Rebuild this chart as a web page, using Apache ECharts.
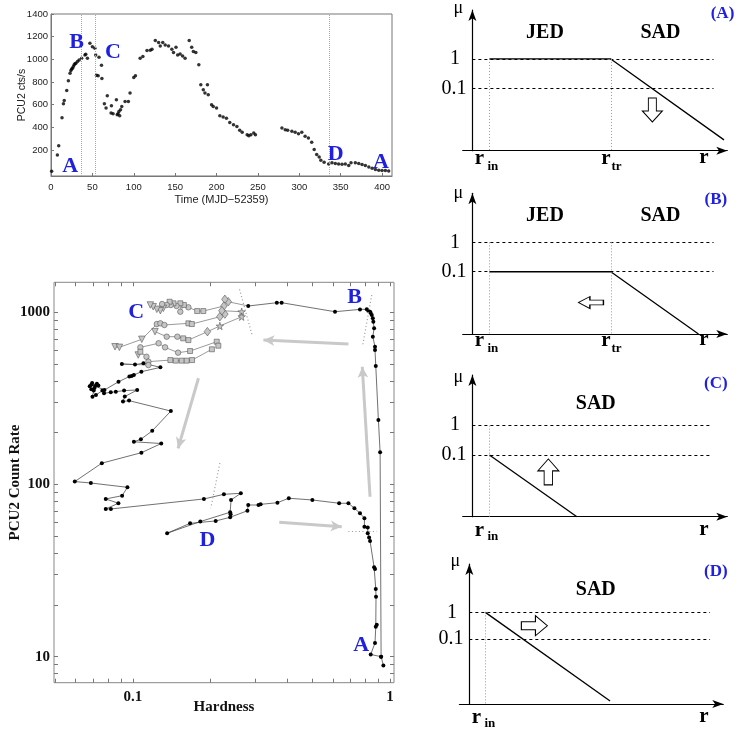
<!DOCTYPE html>
<html>
<head>
<meta charset="utf-8">
<title>Outburst light curve, HID and JED/SAD sketches</title>
<script src="https://cdn.jsdelivr.net/npm/echarts@6.0.0/dist/echarts.min.js"></script>
<style>
html, body { margin: 0; padding: 0; background: #fff; }
#chart { width: 737px; height: 734px; }
</style>
</head>
<body>
<div id="chart"></div>
<script>
// ---- light curve (PCU2 cts/s vs time) ----
const lcTime = [0.8, 7.7, 9.3, 13.3, 15, 16, 19, 21, 23, 24, 25, 26, 27, 28, 29, 30, 32, 34, 37, 41, 42, 44, 47, 50, 53, 54, 55, 57, 58, 61, 61.5,
  64.5, 66.5, 68, 72.6, 73, 75, 79, 80, 81, 82, 83, 84, 85.5, 89.5, 93.5, 95.5, 100, 102, 107.7, 111, 116, 120, 122, 126, 130, 132, 135, 138,
  142, 146, 148, 151, 153, 156, 159, 162, 167, 170, 172, 175, 178.6, 181, 184, 186, 189, 190, 194, 196, 200, 204, 208, 212, 216, 220.5, 224.6,
  228, 231, 237, 239, 241.5, 245, 247, 279, 283, 286, 291, 295, 299, 303, 307, 311, 315, 318, 321, 324, 326, 330, 335.5, 339.5, 343.5, 347.5,
  351.6, 355.6, 359.7, 362.5, 367.7, 371.8, 375.8, 379.8, 384, 388, 392, 396, 400, 404, 408];
const lcRate = [12, 156, 238, 485, 608, 637, 725, 810, 878, 901, 915, 922, 936, 951, 960, 966, 980, 995, 1010, 1039, 1045, 1010, 1142, 1112, 1098, 1039, 860, 854, 1019, 948, 831,
  608, 570, 678, 526, 590, 520, 643, 511, 520, 540, 502, 555, 584, 628, 628, 702, 840, 854, 1010, 1024, 1077, 1080, 1089, 1165, 1148, 1118, 1148, 1127,
  1118, 1089, 1060, 1107, 1039, 1048, 1030, 1010, 1165, 1107, 1069, 1060, 951, 775, 731, 702, 775, 687, 599, 584, 570, 502, 490, 479, 443, 423, 408,
  373, 356, 335, 326, 335, 350, 335, 394, 379, 373, 364, 356, 344, 356, 320, 306, 268, 203, 159, 138, 109, 91, 77, 86, 80, 77,
  74, 77, 62, 86, 86, 80, 71, 62, 50, 39, 27, 21, 18, 18, 15];
const lcPhaseTimes = [37, 53, 336];
const lcTimeTicks = [0, 50, 100, 150, 200, 250, 300, 350, 400];
const lcRateTicks = [200, 400, 600, 800, 1000, 1200, 1400];

// ---- hardness-intensity diagram: [hardness, count rate] ----
const hidRise = [[0.923, 10], [0.915, 154], [0.901, 237], [0.880, 488], [0.874, 604], [0.874, 631], [0.857, 721], [0.867, 808], [0.861, 882],
  [0.857, 923], [0.849, 964], [0.841, 990], [0.836, 1008], [0.823, 1021], [0.812, 1041], [0.764, 1040], [0.611, 1008], [0.379, 1137],
  [0.363, 1137], [0.281, 1088]];
const hidDecay = [[0.0907, 501], [0.102, 497], [0.110, 506], [0.128, 479], [0.108, 452], [0.099, 427], [0.101, 432], [0.097, 424],
  [0.088, 395], [0.0776, 354], [0.0714, 373], [0.069, 380], [0.068, 372], [0.0695, 388], [0.0725, 385], [0.0735, 376], [0.071, 364],
  [0.069, 358], [0.0705, 352], [0.0697, 323], [0.0719, 331], [0.0762, 351], [0.0773, 339], [0.0821, 343], [0.0859, 346], [0.0925, 351],
  [0.104, 354], [0.0931, 324], [0.0916, 303], [0.0967, 307], [0.1406, 267], [0.119, 205], [0.1075, 183], [0.101, 177], [0.129, 173],
  [0.108, 153], [0.0758, 133], [0.0595, 104], [0.0687, 102], [0.0953, 96.3], [0.0909, 86.1], [0.0785, 82.4], [0.0879, 77.8], [0.0785, 72.1],
  [0.0822, 72.1], [0.189, 82.4], [0.226, 87.7], [0.263, 88.9], [0.241, 81.3], [0.239, 69.0], [0.240, 67.2], [0.183, 60.9], [0.136, 52.1],
  [0.167, 59.5], [0.210, 61.4], [0.239, 64.5], [0.279, 70.4], [0.281, 76.0], [0.308, 76.0], [0.314, 76.7], [0.365, 78.4], [0.404, 83.2],
  [0.499, 81.3], [0.634, 77.8], [0.689, 77.8], [0.727, 72.8], [0.764, 68.1], [0.795, 63.7], [0.795, 56.9], [0.819, 56.3], [0.819, 52.1],
  [0.829, 49.3], [0.836, 47.0], [0.867, 33.1], [0.874, 32.3], [0.880, 24.7], [0.882, 22.3], [0.880, 14.9], [0.888, 15.3], [0.874, 12.0],
  [0.841, 10.3], [0.923, 10.0], [0.942, 8.9]];
// grey symbols in the soft state: t=down triangle, c=circle, s=square, d=diamond, x=star, n=no symbol
const grayStrand1 = [[0.281, 1088, 'n'], [0.235, 1152, 'd'], [0.228, 1190, 'd'], [0.226, 1088, 'd'], [0.188, 1017, 's'], [0.178, 1017, 's'],
  [0.1645, 1069, 'c'], [0.158, 1103, 's'], [0.153, 1008, 'c'], [0.153, 1128, 's'], [0.148, 1088, 'c'], [0.144, 1128, 's'], [0.1405, 1103, 'c'],
  [0.139, 1152, 's'], [0.1355, 1103, 'c'], [0.1315, 1055, 't'], [0.130, 1117, 'c'], [0.128, 1022, 't'], [0.124, 1041, 't'], [0.120, 1078, 't'],
  [0.117, 1103, 't']];
const grayStrand2 = [[0.0853, 631, 't'], [0.0887, 626, 't'], [0.1084, 697, 't'], [0.124, 855, 'c'], [0.128, 863, 'c'], [0.1327, 844, 'c'],
  [0.1645, 863, 's'], [0.1696, 855, 's'], [0.218, 943, 'd'], [0.228, 977, 'd'], [0.222, 1022, 'd'], [0.265, 1008, 'x']];
const grayStrand3 = [[0.122, 772, 't'], [0.1355, 722, 'c'], [0.149, 722, 'c'], [0.157, 706, 's'], [0.1645, 690, 's'], [0.195, 772, 'd'],
  [0.218, 833, 'x'], [0.265, 943, 'x']];
const grayStrand4 = [[0.107, 626, 'c'], [0.126, 661, 'c'], [0.1335, 626, 'c'], [0.150, 583, 'c'], [0.167, 596, 's'], [0.212, 675, 's'],
  [0.215, 640, 's']];
const grayStrand5 = [[0.105, 565, 't'], [0.107, 590, 's'], [0.113, 552, 'c'], [0.115, 517, 'c'], [0.140, 528, 's'], [0.147, 524, 's'],
  [0.155, 524, 's'], [0.162, 524, 's'], [0.170, 528, 's'], [0.203, 610, 's']];
const grayStrand6 = [[0.115, 494, 'c'], [0.0907, 501, 'n']];
const hidArrows = [[[0.689, 655], [0.322, 690]], [[0.836, 84.9], [0.780, 483]], [[0.180, 414], [0.150, 162]], [[0.371, 60.3], [0.649, 56.9]]];
const hidBoundaries = [[[0.260, 1360], [0.292, 722]], [[0.849, 1260], [0.783, 646]], [[0.218, 133], [0.201, 72.8]], [[0.689, 53.7], [0.888, 53.7]]];
const hidTickX = [0.05, 0.06, 0.07, 0.08, 0.09, 0.1, 0.2, 0.3, 0.4, 0.5, 0.6, 0.7, 0.8, 0.9, 1];
const hidTickY = [8, 9, 10, 20, 30, 40, 50, 60, 70, 80, 90, 100, 200, 300, 400, 500, 600, 700, 800, 900, 1000];

// ---- mu(r) sketches: x = radius (arbitrary units), y = log10(mu) ----
const profileA = [[6.67, 0], [54.3, 0], [98.7, -2.76]];
const profileB = [[6.67, -1], [54.3, -1], [88.7, -3.12]];
const profileC = [[6.67, -1], [41.0, -3.11]];
const profileD = [[6.28, 0], [55.2, -3.32]];

const blue = '#2020e0';
const serif = '"Liberation Serif", "DejaVu Serif", serif';
const sans = '"Liberation Sans", Arial, sans-serif';
const hollowArrow = 'path://M6,24L6,11L0,11L10,0L20,11L14,11L14,24Z';

const symbols = {
  t: { symbol: 'triangle', symbolRotate: 180, symbolSize: 6.5 },
  c: { symbol: 'circle', symbolSize: 5.5 },
  s: { symbol: 'rect', symbolSize: 5 },
  d: { symbol: 'diamond', symbolSize: [6.5, 8.5] },
  x: { symbol: 'path://M50,0L61,35L98,35L68,57L79,91L50,70L21,91L32,57L2,35L39,35Z', symbolSize: 7.5 },
  n: { symbol: 'none' }
};

const panels = [
  { grid: { left: 462.7, top: 10, width: 264.6, height: 140.7 }, xMin: -3.8, xMax: 100, yMin: -3.13, yMax: 1.67,
    profile: profileA, dashEnd: 94.6, dotted: [6.67, 54.3], arrow: { at: [70.6, -1.74], size: [20, 24], rot: 180 } },
  { grid: { left: 462.7, top: 193.3, width: 264.6, height: 140.7 }, xMin: -3.8, xMax: 100, yMin: -3.12, yMax: 1.67,
    profile: profileB, dashEnd: 94.6, dotted: [6.67, 54.3], arrow: { at: [46.5, -2.05], size: [12, 25], rot: 90 } },
  { grid: { left: 462.7, top: 375, width: 264.6, height: 141.7 }, xMin: -3.8, xMax: 100, yMin: -3.11, yMax: 1.73,
    profile: profileC, dashEnd: 93.5, dotted: [6.67], arrow: { at: [29.8, -1.58], size: [21, 26], rot: 0 } },
  { grid: { left: 459.4, top: 564, width: 263.9, height: 140 }, xMin: -3.9, xMax: 99.6, yMin: -3.43, yMax: 1.81,
    profile: profileD, dashEnd: 94.4, dotted: [6.28], arrow: { at: [25.5, -0.5], size: [20, 26], rot: -90 } }
];

const noSplit = { show: false };
const grids = [
  { left: 51, top: 14, width: 341, height: 162, show: true, borderColor: '#777', borderWidth: 1, containLabel: false },
  { left: 54, top: 282.3, width: 340, height: 400.4, show: true, borderColor: '#888', borderWidth: 1, containLabel: false }
];
const xAxes = [
  { gridIndex: 0, type: 'value', min: 0, max: 412, splitLine: noSplit,
    axisLine: { onZero: false, lineStyle: { color: '#777' } },
    axisTick: { inside: true, length: 3, customValues: lcTimeTicks, lineStyle: { color: '#777' } },
    axisLabel: { customValues: lcTimeTicks, formatter: v => String(v), fontSize: 9.5, color: '#222', margin: 6, fontFamily: sans },
    name: 'Time (MJD\u221252359)', nameLocation: 'middle', nameGap: 18, nameMoveOverlap: false,
    nameTextStyle: { fontSize: 11, color: '#222', fontFamily: sans } },
  { gridIndex: 1, type: 'log', logBase: 10, min: 0.0494, max: 1.036, splitLine: noSplit,
    axisLine: { show: false, onZero: false }, axisTick: { show: false },
    axisLabel: { formatter: v => String(v), showMinLabel: false, showMaxLabel: false,
      fontFamily: serif, fontWeight: 'bold', fontSize: 15, color: '#111', margin: 7 },
    name: 'Hardness', nameLocation: 'middle', nameGap: 17, nameMoveOverlap: false,
    nameTextStyle: { fontFamily: serif, fontWeight: 'bold', fontSize: 15, color: '#111' } }
];
const yAxes = [
  { gridIndex: 0, type: 'value', min: -30, max: 1400, splitLine: noSplit,
    axisLine: { onZero: false, lineStyle: { color: '#777' } },
    axisTick: { inside: true, length: 3, customValues: lcRateTicks, lineStyle: { color: '#777' } },
    axisLabel: { customValues: lcRateTicks, formatter: v => String(v), fontSize: 9.5, color: '#222', margin: 3, fontFamily: sans },
    name: 'PCU2 cts/s', nameLocation: 'middle', nameGap: 23, nameMoveOverlap: false,
    nameTextStyle: { fontSize: 10.5, color: '#222', fontFamily: sans } },
  { gridIndex: 1, type: 'log', logBase: 10, min: 7.06, max: 1494, splitLine: noSplit,
    axisLine: { show: false, onZero: false }, axisTick: { show: false },
    axisLabel: { formatter: v => String(v), showMinLabel: false, showMaxLabel: false,
      fontFamily: serif, fontWeight: 'bold', fontSize: 15, color: '#111', margin: 4 },
    name: 'PCU2 Count Rate', nameLocation: 'middle', nameGap: 31, nameMoveOverlap: false,
    nameTextStyle: { fontFamily: serif, fontWeight: 'bold', fontSize: 15, color: '#111' } }
];
// tick-only axes for the log minor ticks of the HID (all four sides)
['bottom', 'top'].forEach(pos => xAxes.push({
  gridIndex: 1, type: 'value', position: pos, min: Math.log10(0.0494), max: Math.log10(1.036), splitLine: noSplit,
  axisLine: { show: false, onZero: false }, axisLabel: { show: false },
  axisTick: { inside: true, length: 4, customValues: hidTickX.map(Math.log10), lineStyle: { color: '#777' } }
}));
['left', 'right'].forEach(pos => yAxes.push({
  gridIndex: 1, type: 'value', position: pos, min: Math.log10(7.06), max: Math.log10(1494), splitLine: noSplit,
  axisLine: { show: false, onZero: false }, axisLabel: { show: false },
  axisTick: { inside: true, length: 4, customValues: hidTickY.map(Math.log10), lineStyle: { color: '#777' } }
}));

const series = [
  { type: 'scatter', xAxisIndex: 0, yAxisIndex: 0, data: lcTime.map((t, i) => [t, lcRate[i]]),
    symbolSize: 3.5, itemStyle: { color: '#000' },
    markLine: { silent: true, symbol: ['none', 'none'], label: { show: false },
      lineStyle: { color: '#aaa', type: 'dotted', width: 1 }, data: lcPhaseTimes.map(t => ({ xAxis: t })) } },
  { type: 'line', xAxisIndex: 1, yAxisIndex: 1, data: hidRise, symbol: 'circle', symbolSize: 4,
    itemStyle: { color: '#000' }, lineStyle: { color: '#333', width: 0.7 },
    markLine: { silent: true, symbol: ['none', 'arrow'], symbolSize: [8, 11], label: { show: false },
      lineStyle: { color: '#c9c9c9', width: 3, type: 'solid' },
      data: hidArrows.map(a => [{ coord: a[0] }, { coord: a[1] }]) } },
  { type: 'line', xAxisIndex: 1, yAxisIndex: 1, data: hidDecay, symbol: 'circle', symbolSize: 4,
    itemStyle: { color: '#000' }, lineStyle: { color: '#333', width: 0.7 },
    markLine: { silent: true, symbol: ['none', 'none'], label: { show: false },
      lineStyle: { color: '#999', width: 1.2, type: [1, 2.5] },
      data: hidBoundaries.map(a => [{ coord: a[0] }, { coord: a[1] }]) } }
];
[grayStrand1, grayStrand2, grayStrand3, grayStrand4, grayStrand5, grayStrand6].forEach(strand => series.push({
  type: 'line', xAxisIndex: 1, yAxisIndex: 1, z: 3,
  data: strand.map(p => Object.assign({ value: [p[0], p[1]] }, symbols[p[2]])),
  itemStyle: { color: '#c6c6c6', borderColor: '#555', borderWidth: 0.6 },
  lineStyle: { color: '#555', width: 0.6 }
}));

const dash = { color: '#000', type: [3, 3], width: 1 };
const dot = { color: '#999', type: [1, 2], width: 1 };
panels.forEach(p => {
  const gi = grids.length;
  grids.push(Object.assign({ containLabel: false }, p.grid));
  const axisLine = { lineStyle: { color: '#000', width: 1.2 }, symbol: ['none', 'arrow'], symbolSize: [6, 11] };
  xAxes.push({ gridIndex: gi, type: 'value', min: p.xMin, max: p.xMax, splitLine: noSplit,
    axisLine: Object.assign({ onZero: false }, axisLine), axisTick: { show: false }, axisLabel: { show: false } });
  yAxes.push({ gridIndex: gi, type: 'value', min: p.yMin, max: p.yMax, splitLine: noSplit,
    axisLine: Object.assign({ onZero: true }, axisLine), axisTick: { show: false }, axisLabel: { show: false } });
  const ai = xAxes.length - 1;
  const lines = [
    [{ coord: [0, 0], lineStyle: dash }, { coord: [p.dashEnd, 0] }],
    [{ coord: [0, -1], lineStyle: dash }, { coord: [p.dashEnd, -1] }]
  ].concat(p.dotted.map(x => [{ coord: [x, 0], lineStyle: dot }, { coord: [x, p.yMin] }]));
  series.push({ type: 'line', xAxisIndex: ai, yAxisIndex: ai, data: p.profile, symbol: 'none', z: 4,
    lineStyle: { color: '#000', width: 1.3 },
    markLine: { silent: true, symbol: ['none', 'none'], label: { show: false }, data: lines } });
  series.push({ type: 'scatter', xAxisIndex: ai, yAxisIndex: ai, data: [p.arrow.at], symbol: hollowArrow,
    symbolSize: p.arrow.size, symbolRotate: p.arrow.rot,
    itemStyle: { color: '#fff', borderColor: '#000', borderWidth: 1, opacity: 1 } });
});

// text annotations: [text, x, y, font, colour]
const B22 = 'bold 22px ' + serif;
const texts = [
  ['B', 76.7, 42.2, B22, blue], ['C', 113, 52.5, B22, blue], ['A', 70.3, 166.7, B22, blue],
  ['D', 335.8, 154.2, B22, blue], ['A', 381, 162.2, B22, blue],
  ['C', 136.3, 312.2, B22, blue], ['B', 354.7, 297.8, B22, blue], ['D', 207.5, 540.2, B22, blue], ['A', 361.2, 645.5, B22, blue]
];
const panelText = [
  { mu: 8, one: 58.3, tenth: 88.3, jed: true, head: 32.7, tag: '(A)', tagPos: [722.5, 13.3], rY: 159, subY: 167, tr: true, axX: 0 },
  { mu: 193, one: 242.5, tenth: 272, jed: true, head: 216.3, tag: '(B)', tagPos: [715.8, 200], rY: 341, subY: 348.5, tr: true, axX: 0 },
  { mu: 377, one: 425, tenth: 454.7, jed: false, head: 403.7, tag: '(C)', tagPos: [715.8, 383.3], rY: 530.5, subY: 536.5, tr: false, axX: 0 },
  { mu: 561, one: 612.3, tenth: 639, jed: false, head: 590, tag: '(D)', tagPos: [715.8, 571.7], rY: 718, subY: 724, tr: false, axX: -3 }
];
panelText.forEach(t => {
  const R20 = '20px ' + serif, Bd20 = 'bold 20px ' + serif, rFont = 'bold 21px ' + serif, subFont = 'bold 13px ' + serif;
  texts.push(['\u03bc', 458.3 + t.axX, t.mu, '18px ' + serif, '#000']);
  texts.push(['1', 455 + t.axX, t.one, R20, '#000']);
  texts.push(['0.1', 454 + t.axX, t.tenth, R20, '#000']);
  if (t.jed) {
    texts.push(['JED', 545, t.head, Bd20, '#000']);
    texts.push(['SAD', 660.5, t.head, Bd20, '#000']);
  } else {
    texts.push(['SAD', 595.8, t.head, Bd20, '#000']);
  }
  texts.push([t.tag, t.tagPos[0], t.tagPos[1], 'bold 17px ' + serif, blue]);
  texts.push(['r', 479.5 + t.axX, t.rY, rFont, '#000']);
  texts.push(['in', 492.8 + t.axX, t.subY, subFont, '#000']);
  if (t.tr) {
    texts.push(['r', 606, t.rY, rFont, '#000']);
    texts.push(['tr', 616.5, t.subY, subFont, '#000']);
  }
  texts.push(['r', 704, t.rY - 1, rFont, '#000']);
});

const chart = echarts.init(document.getElementById('chart'), null, { renderer: 'canvas' });
chart.setOption({
  animation: false,
  backgroundColor: '#fff',
  textStyle: { fontFamily: sans },
  grid: grids,
  xAxis: xAxes,
  yAxis: yAxes,
  series: series,
  graphic: texts.map(t => ({
    type: 'text', x: t[1], y: t[2], z: 100, silent: true,
    style: { text: t[0], font: t[3], fill: t[4], align: 'center', verticalAlign: 'middle' }
  }))
});
</script>
</body>
</html>
